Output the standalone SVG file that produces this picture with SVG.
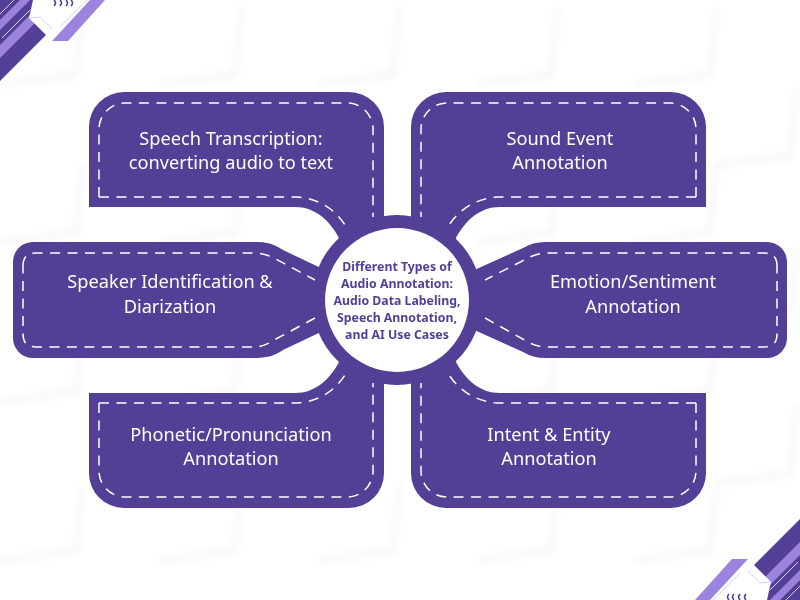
<svg xmlns="http://www.w3.org/2000/svg" width="800" height="600" viewBox="0 0 800 600">
<style>
.shape{fill:#533f95}
.dash{fill:none;stroke:#fff;stroke-width:1.5;stroke-dasharray:10 7.5}
.label{font-family:"Noto Sans","Open Sans",sans-serif;font-size:18.2px;fill:#fff;text-anchor:middle}
.center{font-family:"Noto Sans","Open Sans",sans-serif;font-size:12.3px;font-weight:700;fill:#533f95;text-anchor:middle}
.dark{fill:#533f95}.light{fill:#9b84de}
.thin{stroke:#d9d0f5;stroke-width:1;fill:none}
.chev{stroke:#533f95;stroke-width:1.6;fill:none}
.sh{fill:#000;fill-opacity:.028}
</style>
<defs>
<filter id="b" x="-30%" y="-30%" width="160%" height="160%"><feGaussianBlur stdDeviation="3"/></filter>
<path id="s" class="sh" d="M-72 10L0 0L7 -64L12 -64L6 7L-72 17Z"/>
<g id="corner">
<path class="dark" d="M0 0H100L46 35L0 81Z"/>
<path class="light" d="M0 20L20 0H30L0 30Z"/>
<path class="light" d="M0 45L45 0H58L0 58Z"/>
<path class="thin" d="M0 14L14 0"/>
<path class="thin" d="M2 38L30 10"/>
<path fill="#fff" d="M33 0H100L52 41L29 18Z"/>
<path class="light" d="M52 41H68L105 0H90Z"/>
<path class="thin" d="M61 26L87 0"/>
<path class="thin" d="M29 18L40 17L52 29"/>
<path class="chev" d="M54 0Q57 3 54 6M60 0Q63 3 60 6M66 0Q69 3 66 6M71 0Q74 3 71 6"/>
</g>
</defs>
<rect width="800" height="600" fill="#fff"/>
<g id="paper" filter="url(#b)">
<use href="#s" x="73" y="71"/><use href="#s" x="232" y="71"/><use href="#s" x="390" y="71"/><use href="#s" x="548" y="71"/><use href="#s" x="707" y="71"/>
<use href="#s" x="73" y="229"/><use href="#s" x="232" y="229"/><use href="#s" x="548" y="229"/><use href="#s" x="707" y="229"/>
<use href="#s" x="73" y="388"/><use href="#s" x="232" y="388"/><use href="#s" x="548" y="388"/><use href="#s" x="707" y="388"/>
<use href="#s" x="73" y="547"/><use href="#s" x="232" y="547"/><use href="#s" x="390" y="547"/><use href="#s" x="548" y="547"/><use href="#s" x="707" y="547"/>
<use href="#s" x="787" y="152"/><use href="#s" x="787" y="311"/><use href="#s" x="787" y="470"/>
</g>
<g id="corner-top-left"><use href="#corner"/></g>
<g id="corner-bottom-right"><use href="#corner" transform="rotate(180 400 300)"/></g>
<g id="connectors">
<circle cx="397" cy="300" r="85" class="shape"/>
</g>
<g id="node-tl">
<path class="shape" d="M89 207V127A35 35 0 0 1 124 92H349A35 35 0 0 1 384 127V240H340C330 220 315 207 295 207Z"/>
<path class="dash" d="M99 197V129A26 26 0 0 1 125 103H347A26 26 0 0 1 373 129V217M99 197H298C322 199 338 212 348 230"/>
<text class="label" x="231" y="145">Speech Transcription:</text>
<text class="label" x="231" y="169">converting audio to text</text>
</g>
<g id="node-tr">
<path class="shape" d="M706 207V127A35 35 0 0 0 671 92H446A35 35 0 0 0 411 127V240H455C465 220 480 207 500 207Z"/>
<path class="dash" d="M696 197V129A26 26 0 0 0 670 103H448A26 26 0 0 0 421 129V217M696 197H497C473 199 456 212 446 230"/>
<text class="label" x="560" y="145">Sound Event</text>
<text class="label" x="560" y="169">Annotation</text>
</g>
<g id="node-ml">
<path class="shape" d="M13 262A20 20 0 0 1 33 242H257Q272 242 283 250L325 270V330L283 350Q272 358 257 358H33A20 20 0 0 1 13 338Z"/>
<path class="dash" d="M23 266Q23 253 36 253H253Q264 253 274 258L315 280M315 318L274 340Q264 347 253 347H36Q23 347 23 334V266"/>
<text class="label" x="170" y="288">Speaker Identification &amp;</text>
<text class="label" x="170" y="313">Diarization</text>
</g>
<g id="node-mr">
<path class="shape" d="M787 262A20 20 0 0 0 767 242H545Q533 242 523 248L470 272V328L523 352Q533 358 545 358H767A20 20 0 0 0 787 338Z"/>
<path class="dash" d="M777 266Q777 253 764 253H548Q537 253 528 258L485 280M485 318L528 342Q537 347 548 347H764Q777 347 777 334V266"/>
<text class="label" x="633" y="288">Emotion/Sentiment</text>
<text class="label" x="633" y="313">Annotation</text>
</g>
<g id="node-bl">
<path class="shape" d="M89 393V473A35 35 0 0 0 124 508H349A35 35 0 0 0 384 473V360H340C330 380 315 393 295 393Z"/>
<path class="dash" d="M99 403V471A26 26 0 0 0 125 497H347A26 26 0 0 0 373 471V383M99 403H298C322 401 338 388 348 370"/>
<text class="label" x="231" y="441">Phonetic/Pronunciation</text>
<text class="label" x="231" y="465">Annotation</text>
</g>
<g id="node-br">
<path class="shape" d="M706 393V473A35 35 0 0 1 671 508H446A35 35 0 0 1 411 473V360H455C465 380 480 393 500 393Z"/>
<path class="dash" d="M696 403V471A26 26 0 0 1 670 497H448A26 26 0 0 1 421 471V383M696 403H497C473 401 456 388 446 370"/>
<text class="label" x="549" y="441">Intent &amp; Entity</text>
<text class="label" x="549" y="465">Annotation</text>
</g>
<g id="node-center">
<circle cx="397" cy="300" r="72" fill="#fff"/>
<text class="center" x="397" y="271">Different Types of</text>
<text class="center" x="397" y="288">Audio Annotation:</text>
<text class="center" x="397" y="305">Audio Data Labeling,</text>
<text class="center" x="397" y="322">Speech Annotation,</text>
<text class="center" x="397" y="339">and AI Use Cases</text>
</g>
</svg>
